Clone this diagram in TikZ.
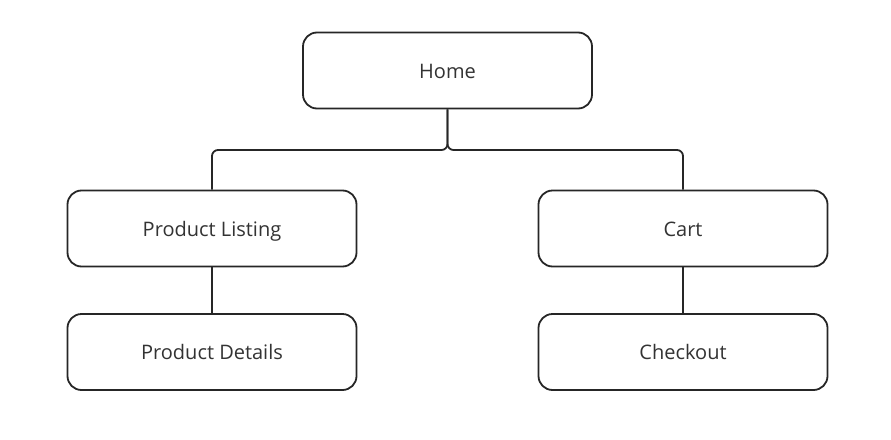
\documentclass[tikz,border=0pt]{standalone}
\usepackage{fontspec}
\setmainfont{Open Sans}
\definecolor{linec}{HTML}{262626}
\definecolor{textc}{HTML}{333333}
\begin{document}
\begin{tikzpicture}[x=1pt,y=-1pt,
  box/.style={draw=linec, line width=1.8pt, rounded corners=14pt, minimum width=289pt, minimum height=76pt, inner sep=0pt, text=textc, font=\fontsize{20}{24}\selectfont, text height=17pt, text depth=2pt, fill=white},
  conn/.style={draw=linec, line width=1.8pt, rounded corners=6pt}]
\useasboundingbox (0,0) rectangle (891,439);
\node[box] (home) at (447.5,70.5) {Home};
\node[box] (pl) at (212,228.5) {Product Listing};
\node[box] (cart) at (683,228.5) {Cart};
\node[box] (pd) at (212,352) {Product Details};
\node[box] (co) at (683,352) {Checkout};
\coordinate (j) at (447.5,150);
\draw[conn] (home.south) -- (j) -| (pl.north);
\draw[conn] (home.south) -- (j) -| (cart.north);
\draw[conn] (pl.south) -- (pd.north);
\draw[conn] (cart.south) -- (co.north);
\end{tikzpicture}
\end{document}
